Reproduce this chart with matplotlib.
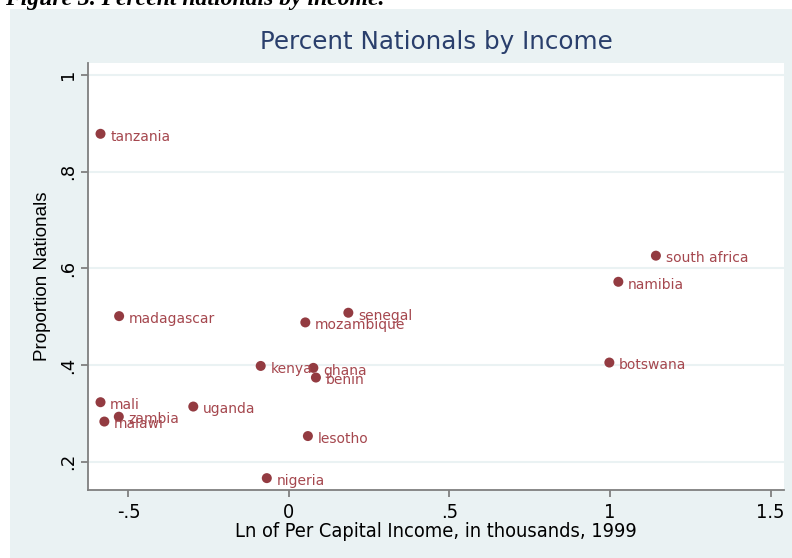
import matplotlib.pyplot as plt
from matplotlib.patches import Rectangle
from matplotlib import font_manager

countries = ['tanzania', 'south africa', 'namibia', 'senegal', 'madagascar',
             'mozambique', 'kenya', 'ghana', 'benin', 'botswana', 'mali',
             'zambia', 'malawi', 'uganda', 'lesotho', 'nigeria']
ln_income = [-0.587, 1.143, 1.026, 0.185, -0.529, 0.051, -0.088, 0.076,
             0.084, 0.998, -0.587, -0.530, -0.575, -0.298, 0.059, -0.069]
prop_nationals = [0.878, 0.626, 0.572, 0.508, 0.501, 0.488, 0.398, 0.394,
                  0.374, 0.405, 0.323, 0.293, 0.283, 0.314, 0.253, 0.166]
x_ticks = [-0.5, 0, 0.5, 1, 1.5]
x_ticklabels = ['-.5', '0', '.5', '1', '1.5']
y_ticks = [0.2, 0.4, 0.6, 0.8, 1]
y_ticklabels = ['.2', '.4', '.6', '.8', '1']

bg = '#EAF2F3'
marker_col = '#933B41'
label_col = '#A5474E'
axis_col = '#7F7F7F'

# condensed face for the x axis
narrow = font_manager.FontProperties(family='DejaVu Sans', stretch='condensed',
                                     size=14.3)

fig = plt.figure(figsize=(7.92, 5.58), dpi=100)
fig.patches.append(Rectangle((10 / 792, 0), 1 - 10 / 792, 1 - 9 / 558,
                             transform=fig.transFigure, facecolor=bg,
                             edgecolor='none', zorder=-5))
fig.text(5 / 792, 1 - 5 / 558, 'Figure 3. Percent nationals by income.',
         family='Liberation Serif', weight='bold', style='italic',
         fontsize=17, va='baseline', ha='left')

ax = fig.add_axes([0.1115, 0.1219, 0.8784, 0.7657])
ax.set_facecolor('white')
ax.set_xlim(-0.625, 1.542)
ax.set_ylim(0.1415, 1.025)

for y in y_ticks:
    ax.axhline(y, color=bg, lw=1.5, zorder=1)

ax.scatter(ln_income, prop_nationals, s=52, color=marker_col,
           edgecolors='none', zorder=3)
for name, x, y in zip(countries, ln_income, prop_nationals):
    ax.annotate(name, (x, y), xytext=(7, -2), textcoords='offset points',
                va='center', ha='left', fontsize=10, color=label_col,
                family='DejaVu Sans', zorder=4)

for side in ['top', 'right']:
    ax.spines[side].set_visible(False)
for side in ['left', 'bottom']:
    ax.spines[side].set_color(axis_col)
    ax.spines[side].set_linewidth(1.3)

ax.set_xticks(x_ticks)
ax.set_xticklabels(x_ticklabels, fontproperties=narrow)
ax.set_yticks(y_ticks)
ax.set_yticklabels(y_ticklabels, family='DejaVu Sans', fontsize=13,
                   rotation=90, va='center')
ax.tick_params(axis='both', color=axis_col, length=5, width=1.3, pad=3)
ax.tick_params(axis='x', pad=4.5)

ax.set_xlabel('Ln of Per Capital Income, in thousands, 1999',
              fontproperties=narrow, labelpad=0)
ax.set_ylabel('Proportion Nationals', family='Liberation Sans', fontsize=13.5,
              labelpad=6)
ax.set_title('Percent Nationals by Income', fontsize=17.7, color='#2A3F6C',
             family='DejaVu Sans', pad=10)

fig.savefig('out.png', dpi=100)
